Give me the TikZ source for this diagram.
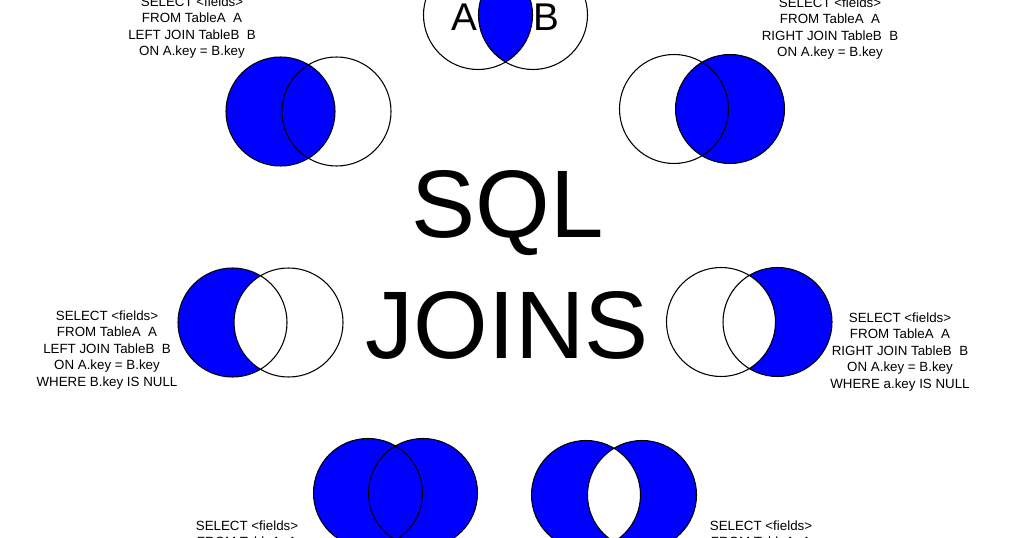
\documentclass[tikz,border=0pt]{standalone}
\usepackage{fontspec}
\setmainfont{Liberation Sans}
\begin{document}
\begin{tikzpicture}[x=0.75pt,y=-0.75pt,
  ring/.style={draw=black,line width=0.8pt},
  venn/.style={fill=blue},
  sqltext/.style={align=center,font=\fontsize{10}{12.4}\selectfont,inner sep=0pt},
  bigtitle/.style={font=\fontsize{72}{86}\selectfont,inner sep=0pt},
  setlabel/.style={font=\fontsize{29}{34}\selectfont,inner sep=0pt}]
\useasboundingbox (0,0) rectangle (1024,538);
\clip (0,0) rectangle (1024,538);
\def\rad{54.5}
% centres
\coordinate (ta) at (478,15);   \coordinate (tb) at (533,15);
\coordinate (la) at (280.5,111.5); \coordinate (lb) at (336.5,111.5);
\coordinate (ra) at (674,109);  \coordinate (rb) at (730,109);
\coordinate (xa) at (232.5,322.5); \coordinate (xb) at (288.5,322.5);
\coordinate (ya) at (721,322);  \coordinate (yb) at (777.5,322);
\coordinate (fa) at (368,493);  \coordinate (fb) at (423,493);
\coordinate (sa) at (586,495);  \coordinate (sb) at (642,495);

% inner join
\begin{scope}
  \clip (ta) circle [radius=\rad];
  \fill[venn] (tb) circle [radius=\rad];
\end{scope}
\draw[ring] (ta) circle [radius=\rad] (tb) circle [radius=\rad];
\node[setlabel] (labA) at (464,17) {A};
\node[setlabel] (labB) at (546,17) {B};

% left join
\fill[venn] (la) circle [radius=\rad];
\draw[ring] (la) circle [radius=\rad] (lb) circle [radius=\rad];

% right join
\fill[venn] (rb) circle [radius=\rad];
\draw[ring] (ra) circle [radius=\rad] (rb) circle [radius=\rad];

% left excluding
\begin{scope}
  \clip (xa) circle [radius=\rad];
  \fill[venn,even odd rule] (xa) circle [radius=\rad] (xb) circle [radius=\rad];
\end{scope}
\draw[ring] (xa) circle [radius=\rad] (xb) circle [radius=\rad];

% right excluding
\begin{scope}
  \clip (yb) circle [radius=\rad];
  \fill[venn,even odd rule] (ya) circle [radius=\rad] (yb) circle [radius=\rad];
\end{scope}
\draw[ring] (ya) circle [radius=\rad] (yb) circle [radius=\rad];

% full outer
\fill[venn] (fa) circle [radius=\rad] (fb) circle [radius=\rad];
\draw[ring] (fa) circle [radius=\rad] (fb) circle [radius=\rad];

% outer excluding
\fill[venn,even odd rule] (sa) circle [radius=\rad] (sb) circle [radius=\rad];
\draw[ring] (sa) circle [radius=\rad] (sb) circle [radius=\rad];

% title
\node[bigtitle] (sql) at (508,213) {SQL};
\node[bigtitle] (joins) at (507,325) {JOINS};

% texts
\node[sqltext] (tl) at (192,27.5) {SELECT <fields>\\FROM TableA~~A\\LEFT JOIN TableB~~B\\ON A.key = B.key};
\node[sqltext] (tr) at (830,28.5) {SELECT <fields>\\FROM TableA~~A\\RIGHT JOIN TableB~~B\\ON A.key = B.key};
\node[sqltext] (ml) at (107,350) {SELECT <fields>\\FROM TableA~~A\\LEFT JOIN TableB~~B\\ON A.key = B.key\\WHERE B.key IS NULL};
\node[sqltext] (mr) at (900,352) {SELECT <fields>\\FROM TableA~~A\\RIGHT JOIN TableB~~B\\ON A.key = B.key\\WHERE a.key IS NULL};
\node[sqltext] (bl) at (247,533.5) {SELECT <fields>\\FROM TableA~~A};
\node[sqltext] (br) at (761,533.5) {SELECT <fields>\\FROM TableA~~A};
\end{tikzpicture}
\end{document}
